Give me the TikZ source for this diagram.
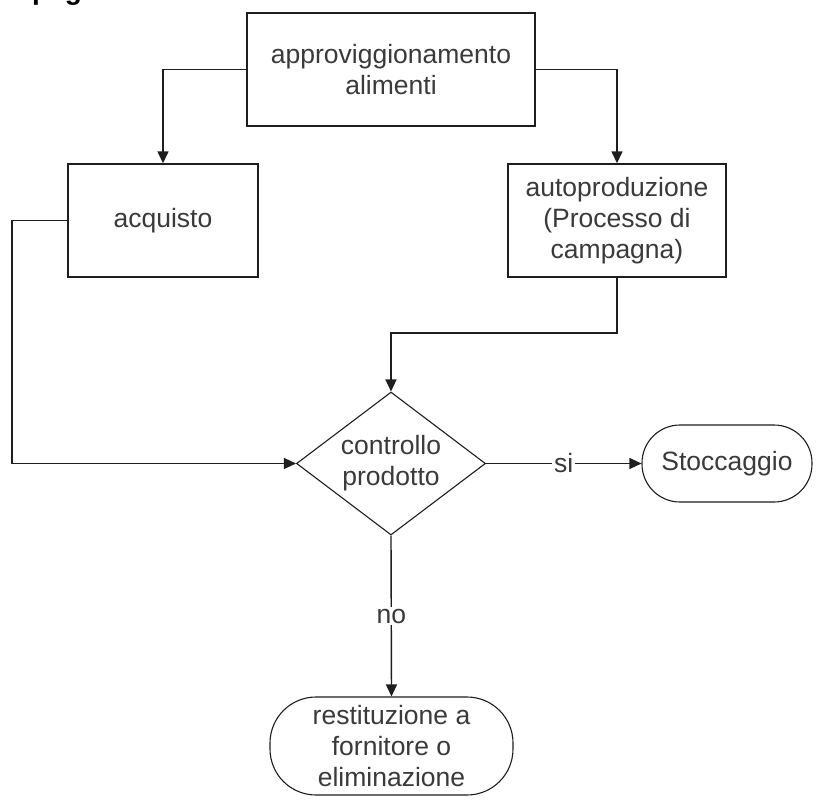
\documentclass[tikz,border=0pt]{standalone}
\usepackage{fontspec}
\setmainfont{Liberation Sans}
\usetikzlibrary{arrows.meta,shapes.geometric}
\definecolor{txtgray}{HTML}{3A3A3A}
\definecolor{linegray}{HTML}{1E1E1E}
\begin{document}
\begin{tikzpicture}[x=1pt,y=-1pt,
  every node/.style={font=\fontsize{26.5}{31}\selectfont, text=txtgray, align=center},
  boxnode/.style={draw=linegray, line width=1.4pt, rectangle, inner sep=0pt},
  decision/.style={draw=linegray, line width=1.1pt, diamond, inner sep=0pt, aspect=1.32, minimum width=189pt, minimum height=143pt},
  terminal/.style={draw=linegray, line width=1.1pt, rectangle, inner sep=0pt},
  conn/.style={draw=linegray, line width=1.4pt},
  arr/.style={conn, -{Triangle[length=12pt,width=11pt]}},
  lbl/.style={fill=white, inner sep=2pt}]
\useasboundingbox (0,0) rectangle (822,803);
\clip (0,0) rectangle (822,803);
\fill[white] (0,0) rectangle (822,803);
\node[anchor=base west, font=\fontsize{28}{32}\selectfont\bfseries, text=black, inner sep=0pt] (title) at (32,-1) {pag};
\node[boxnode, minimum width=288pt, minimum height=113pt] (top) at (391,69.5) {approviggionamento\\alimenti};
\node[boxnode, minimum width=190pt, minimum height=113pt] (acq) at (163,220.5) {acquisto};
\node[boxnode, minimum width=218pt, minimum height=113pt] (auto) at (617,220.5) {autoproduzione\\(Processo di\\campagna)};
\node[decision] (dia) at (391,463.5) {controllo\\prodotto};
\node[terminal, rounded corners=38pt, minimum width=170pt, minimum height=77pt] (sto) at (727,463.5) {Stoccaggio};
\node[terminal, rounded corners=46pt, minimum width=243pt, minimum height=98pt] (res) at (391.5,746) {restituzione a\\fornitore o\\eliminazione};
\coordinate (lft) at (12,220.5);
\coordinate (mid) at (617,333);
\draw[arr] (top.west) -| (acq.north);
\draw[arr] (top.east) -| (auto.north);
\draw[arr] (acq.west) -- (lft) |- (dia.west);
\draw[arr] (auto.south) -- (mid) -| (dia.north);
\draw[arr] (dia.east) -- node[lbl] {si} (sto.west);
\draw[arr] (dia.south) -- node[lbl] {no} (res.north);
\end{tikzpicture}
\end{document}
